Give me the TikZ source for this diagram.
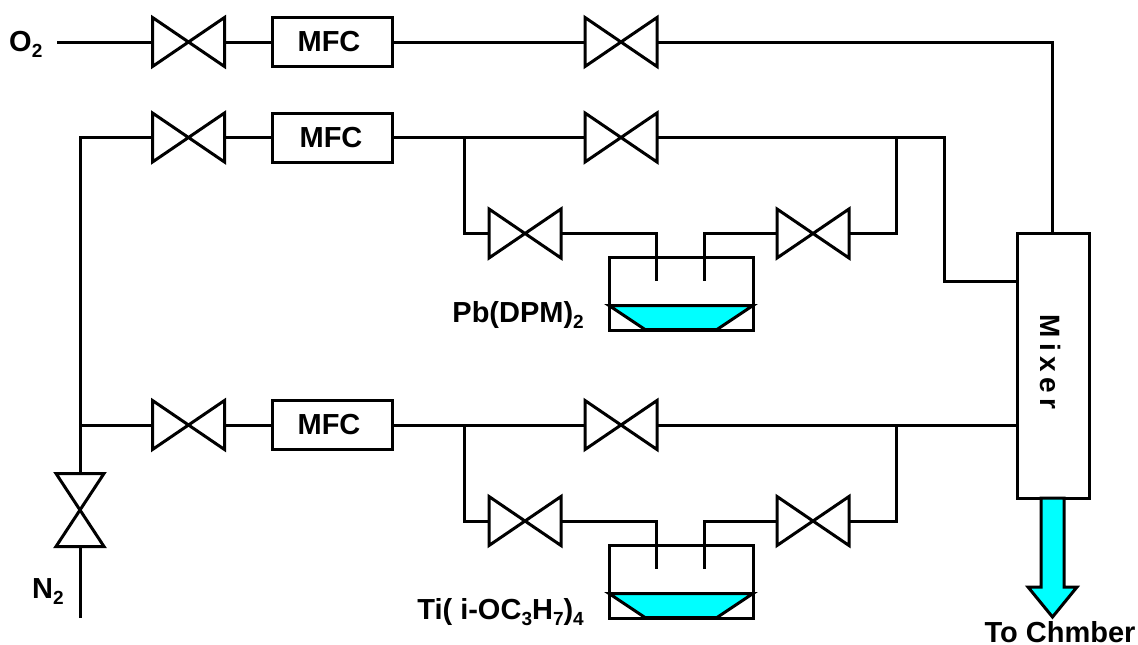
\documentclass[tikz,border=0pt]{standalone}
\usepackage{fontspec}
\setmainfont{Liberation Sans}
\definecolor{liq}{RGB}{0,255,255}
\newcommand{\sbs}[1]{\raisebox{-0.22em}{\fontsize{19}{20}\selectfont #1}}
\tikzset{
  x=1pt,y=-1pt,
  pipe/.style={line width=3pt,line join=miter},
  lab/.style={font=\fontsize{29}{31}\selectfont\bfseries,inner sep=0pt},
  mfcbox/.style={draw,line width=3pt,minimum width=120pt,minimum height=49pt,inner sep=0pt},
  mfclab/.style={font=\fontsize{29}{31}\selectfont\bfseries,inner sep=0pt},
  valvebox/.style={minimum width=72pt,minimum height=49pt,inner sep=0pt,outer sep=0pt},
  vvalvebox/.style={minimum width=48pt,minimum height=73pt,inner sep=0pt,outer sep=0pt},
  tankbox/.style={draw,line width=3pt,minimum width=144pt,minimum height=73pt,inner sep=0pt},
  mixerbox/.style={draw,line width=3pt,minimum width=72pt,minimum height=265pt,inner sep=0pt},
  liquid/.style={draw,fill=liq,line width=3pt,line join=miter},
}
\newcommand{\valve}[3]{%
  \node[valvebox] (#1) at (#2,#3) {};
  \draw[pipe] (#1.south west) -- (#1.north east) -- (#1.south east) -- (#1.north west) -- cycle;}
\newcommand{\tank}[3]{%
  \node[tankbox] (#1) at (#2,#3) {};
  \coordinate (#1ll) at (#2-72,#3+12);
  \coordinate (#1lr) at (#2+72,#3+12);
  \coordinate (#1br) at (#2+36,#3+36);
  \coordinate (#1bl) at (#2-36,#3+36);
  \draw[liquid] (#1ll) -- (#1lr) -- (#1br) -- (#1bl) -- cycle;}
\begin{document}
\begin{tikzpicture}
\useasboundingbox (0,0) rectangle (1138,645);
% mixer
\node[mixerbox] (mix) at (1053,365.5) {};
\node[font=\fontsize{28}{30}\selectfont\bfseries,rotate=-90,inner sep=0pt] (mixt) at (1050,362) {M\hspace{0.2em}i\hspace{0.2em}x\hspace{0.2em}e\hspace{0.2em}r};
% O2 row
\coordinate (o2s) at (57,42);
\valve{v1a}{188.5}{42}
\node[mfcbox] (m1) at (332,42) {};
\node[mfclab] (m1t) at (329,42) {MFC};
\valve{v1b}{621}{42}
\coordinate (o2c) at (1052,42);
\coordinate (o2m) at (1052,233);
\draw[pipe] (o2s) -- (v1a.west) (v1a.east) -- (m1.west) (m1.east) -- (v1b.west);
\draw[pipe] (v1b.east) -- (o2c) -- (o2m);
% Pb row
\valve{v2a}{188.5}{137.5}
\node[mfcbox] (m2) at (332,137.5) {};
\node[mfclab] (m2t) at (331,137.5) {MFC};
\valve{v2b}{621}{137.5}
\draw[pipe] (v2a.east) -- (m2.west) (m2.east) -- (v2b.west);
\coordinate (t2) at (80,137.5);
\coordinate (j2l) at (464,137.5);
\coordinate (j2r) at (896,137.5);
\coordinate (c2) at (944,137.5);
\coordinate (c2d) at (944,281);
\coordinate (mix2) at (1017,281);
\draw[pipe] (v2b.east) -- (c2) -- (c2d) -- (mix2);
\valve{v2c}{525}{233.5}
\valve{v2d}{813}{233.5}
\tank{ta}{681}{293.5}
\coordinate (l2) at (464,233.5);
\coordinate (r2) at (896,233.5);
\draw[pipe] (j2l) -- (l2) -- (v2c.west);
\draw[pipe] (v2d.east) -- (r2) -- (j2r);
\draw[pipe] (v2c.east) -- (656,233.5) -- (656,281);
\draw[pipe] (v2d.west) -- (704,233.5) -- (704,281);
\node[lab,anchor=base east] (pb) at (584,322) {Pb(DPM)\sbs{2}};
% Ti row
\valve{v3a}{188.5}{425}
\node[mfcbox] (m3) at (332,425) {};
\node[mfclab] (m3t) at (329,425) {MFC};
\valve{v3b}{621}{425}
\draw[pipe] (v3a.east) -- (m3.west) (m3.east) -- (v3b.west);
\coordinate (t3) at (80,425);
\coordinate (j3l) at (464,425);
\coordinate (j3r) at (896,425);
\coordinate (mix3) at (1017,425);
\draw[pipe] (v3b.east) -- (mix3);
\valve{v3c}{525}{521}
\valve{v3d}{813}{521}
\tank{tb}{681}{581.5}
\coordinate (l3) at (464,521);
\coordinate (r3) at (896,521);
\draw[pipe] (j3l) -- (l3) -- (v3c.west);
\draw[pipe] (v3d.east) -- (r3) -- (j3r);
\draw[pipe] (v3c.east) -- (656,521) -- (656,569);
\draw[pipe] (v3d.west) -- (704,521) -- (704,569);
\node[lab,anchor=base east] (ti) at (584,619) {Ti( i-OC\sbs{3}H\sbs{7})\sbs{4}};
% N2 feed
\node[vvalvebox] (v0) at (80,510) {};
\draw[pipe] (v0.north west) -- (v0.north east) -- (v0.south west) -- (v0.south east) -- cycle;
\coordinate (n2s) at (80,618);
\draw[pipe] (n2s) -- (v0.south);
\draw[pipe] (v0.north) -- (t2) -- (v2a.west);
\draw[pipe] (t3) -- (v3a.west);
% labels
\node[lab,anchor=base west] (o2l) at (9,51) {O\sbs{2}};
\node[lab,anchor=base west] (n2l) at (32,598) {N\sbs{2}};
% outlet arrow
\draw[liquid] (1041,498) -- (1064,498) -- (1064,587) -- (1077,587) -- (1052.5,617) -- (1028,587) -- (1041,587) -- cycle;
\node[lab,anchor=base] (tc) at (1060,642) {To Chmber};
\end{tikzpicture}
\end{document}
